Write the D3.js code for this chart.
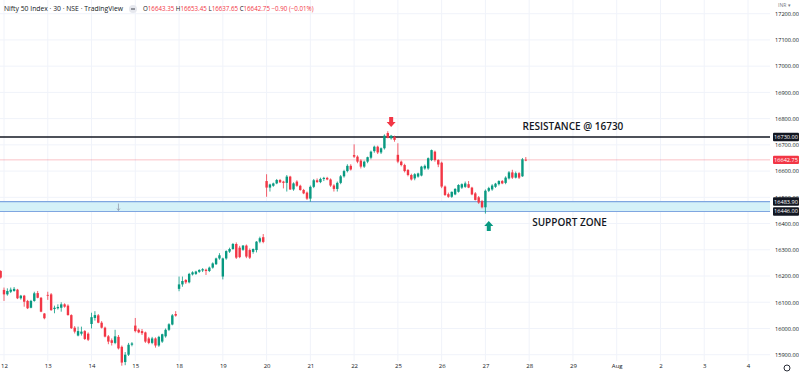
<!DOCTYPE html>
<html>
<head>
<meta charset="utf-8">
<script src="https://cdn.jsdelivr.net/npm/d3@7"></script>
<style>
	html, body { margin: 0; padding: 0; background: #fff; }
	svg { display: block; font-family: "Open Sans", sans-serif; }
</style>
</head>
<body>
<svg id="chart" width="799" height="373"></svg>
<script>
// 30 minute candles, [open, high, low, close], one array per session
const jul11 = [[16219, 16222, 16190, 16194]];
const jul12 = [
	[16147, 16156, 16105, 16130], [16130, 16153, 16125, 16143], [16140, 16156, 16135, 16148],
	[16143, 16158, 16140, 16151], [16148, 16151, 16112, 16115], [16115, 16128, 16110, 16125],
	[16125, 16128, 16083, 16102], [16105, 16109, 16074, 16077], [16079, 16109, 16077, 16105],
	[16105, 16140, 16102, 16134], [16135, 16143, 16115, 16117], [16117, 16120, 16062, 16064],
	[16057, 16059, 16035, 16039]
];
const jul13 = [
	[16128, 16140, 16109, 16125], [16130, 16135, 16067, 16070], [16074, 16087, 16058, 16079],
	[16077, 16092, 16072, 16082], [16079, 16100, 16064, 16092], [16092, 16096, 16079, 16083],
	[16087, 16092, 16049, 16051], [16051, 16054, 15998, 16001], [16003, 16009, 15981, 15988],
	[15973, 16007, 15970, 15990], [15980, 16007, 15973, 15988], [15990, 15994, 15956, 15960],
	[15980, 15985, 15952, 15957]
];
const jul14 = [
	[16017, 16060, 16000, 16043], [16040, 16066, 16030, 16051], [16050, 16055, 16020, 16022],
	[16022, 16028, 16000, 16003], [16003, 16007, 15966, 15969], [15970, 15975, 15940, 15950],
	[15955, 15962, 15935, 15945], [15945, 15995, 15940, 15970], [15968, 15975, 15920, 15924],
	[15930, 15935, 15858, 15870], [15872, 15910, 15860, 15900], [15900, 15945, 15895, 15938],
	[15938, 15948, 15932, 15943]
];
const jul15 = [
	[16011, 16040, 15985, 15990], [15995, 16000, 15982, 15985], [15990, 15998, 15975, 15982],
	[15985, 15988, 15945, 15950], [15962, 15968, 15940, 15945], [15945, 15968, 15940, 15962],
	[15962, 15966, 15927, 15935], [15935, 15972, 15930, 15968], [15950, 15980, 15945, 15978],
	[15970, 16000, 15965, 15995], [15995, 16020, 15990, 16016], [16015, 16055, 16012, 16050],
	[16055, 16066, 16045, 16049]
];
const jul18 = [
	[16151, 16198, 16142, 16168], [16168, 16198, 16159, 16181], [16185, 16188, 16170, 16176],
	[16176, 16212, 16172, 16208], [16206, 16218, 16202, 16214], [16208, 16220, 16204, 16217],
	[16216, 16226, 16212, 16223], [16221, 16230, 16215, 16226], [16224, 16228, 16204, 16219],
	[16219, 16236, 16215, 16232], [16232, 16252, 16228, 16248], [16245, 16270, 16242, 16267],
	[16267, 16287, 16262, 16279]
];
const jul19 = [
	[16198, 16270, 16187, 16267], [16267, 16298, 16262, 16295], [16293, 16308, 16288, 16303],
	[16303, 16326, 16300, 16322], [16322, 16328, 16265, 16270], [16308, 16315, 16268, 16272],
	[16300, 16318, 16296, 16316], [16316, 16320, 16268, 16274], [16299, 16305, 16265, 16270],
	[16292, 16305, 16285, 16303], [16299, 16333, 16290, 16331], [16331, 16350, 16325, 16344],
	[16348, 16360, 16325, 16330]
];
const jul20 = [
	[16562, 16588, 16502, 16537], [16537, 16552, 16522, 16549], [16544, 16556, 16540, 16553],
	[16553, 16570, 16550, 16566], [16566, 16570, 16555, 16557], [16560, 16563, 16534, 16555],
	[16555, 16585, 16522, 16579], [16579, 16582, 16528, 16530], [16530, 16557, 16525, 16553],
	[16560, 16565, 16540, 16544], [16544, 16548, 16525, 16528], [16528, 16532, 16512, 16515],
	[16518, 16522, 16490, 16495]
];
const jul21 = [
	[16495, 16545, 16483, 16540], [16540, 16570, 16535, 16565], [16565, 16572, 16555, 16558],
	[16558, 16575, 16554, 16570], [16570, 16578, 16562, 16574], [16574, 16578, 16565, 16568],
	[16568, 16572, 16540, 16545], [16545, 16550, 16522, 16532], [16532, 16560, 16522, 16555],
	[16555, 16585, 16550, 16580], [16580, 16605, 16575, 16600], [16600, 16626, 16595, 16620],
	[16620, 16626, 16602, 16606]
];
const jul22 = [
	[16661, 16702, 16650, 16655], [16655, 16660, 16630, 16636], [16640, 16645, 16610, 16617],
	[16617, 16640, 16612, 16636], [16636, 16655, 16630, 16653], [16651, 16678, 16645, 16674],
	[16676, 16697, 16670, 16693], [16693, 16697, 16665, 16671], [16671, 16690, 16665, 16687],
	[16687, 16740, 16682, 16735], [16745, 16752, 16725, 16727], [16725, 16738, 16720, 16735],
	[16730, 16735, 16712, 16719]
];
const jul25 = [
	[16662, 16706, 16630, 16636], [16636, 16640, 16618, 16623], [16623, 16628, 16595, 16600],
	[16604, 16608, 16580, 16585], [16585, 16590, 16564, 16568], [16572, 16592, 16565, 16588],
	[16579, 16594, 16575, 16591], [16583, 16620, 16580, 16617], [16610, 16625, 16605, 16620],
	[16610, 16652, 16605, 16649], [16642, 16682, 16638, 16680], [16674, 16678, 16636, 16642],
	[16642, 16645, 16615, 16625]
];
const jul26 = [
	[16632, 16636, 16535, 16541], [16541, 16545, 16505, 16509], [16512, 16518, 16498, 16502],
	[16502, 16522, 16498, 16521], [16511, 16535, 16508, 16532], [16521, 16550, 16518, 16547],
	[16537, 16553, 16532, 16550], [16540, 16560, 16536, 16553], [16550, 16562, 16535, 16537],
	[16537, 16540, 16508, 16511], [16515, 16520, 16488, 16490], [16500, 16505, 16475, 16480],
	[16485, 16490, 16458, 16462]
];
const jul27 = [
	[16462, 16530, 16438, 16525], [16525, 16540, 16520, 16535], [16530, 16550, 16525, 16545],
	[16540, 16555, 16536, 16552], [16550, 16565, 16545, 16562], [16562, 16566, 16550, 16553],
	[16555, 16580, 16550, 16575], [16572, 16600, 16568, 16595], [16595, 16605, 16570, 16575],
	[16575, 16598, 16572, 16592], [16592, 16596, 16570, 16575], [16580, 16650, 16578, 16645],
	[16643.35, 16653.45, 16637.65, 16642.75]
];

const dayLabels = ["12", "13", "14", "15", "18", "19", "20", "21", "22", "25", "26", "27", "28", "29", "Aug", "2", "3", "4"];
const priceTicks = [15900, 16000, 16100, 16200, 16300, 16400, 16500, 16600, 16700, 16800, 16900, 17000, 17100, 17200];
const resistance = 16730;
const supportZone = [16446, 16483.9];
const lastPrice = 16642.75;

const barsPerDay = 13;
const up = "#089981", down = "#f23645";

const svg = d3.select("#chart");
const plotRight = 770, plotBottom = 361;

// bar 0 is the last candle of the 11th, bar 1 opens the 12th
const x = d3.scaleLinear()
			.domain([1, 1 + barsPerDay * (dayLabels.length - 1)])
			.range([4, 748]);
const y = d3.scaleLinear()
			.domain([15900, 17200])
			.range([354.7, 13.7]);

const sessions = [jul11, jul12, jul13, jul14, jul15, jul18, jul19, jul20, jul21, jul22, jul25, jul26, jul27];
const bars = [];
sessions.forEach(s => s.forEach(d => bars.push({ o: d[0], h: d[1], l: d[2], c: d[3] })));
bars.forEach((b, i) => b.i = i);

const dayStarts = dayLabels.map((d, k) => 1 + k * barsPerDay);

// grid
svg.append("g").selectAll("line")
	.data(dayStarts)
	.enter().append("line")
	.attr("x1", d => x(d)).attr("x2", d => x(d))
	.attr("y1", 0).attr("y2", plotBottom)
	.attr("stroke", "#f0f3fa");
svg.append("g").selectAll("line")
	.data(priceTicks)
	.enter().append("line")
	.attr("x1", 0).attr("x2", plotRight)
	.attr("y1", d => y(d)).attr("y2", d => y(d))
	.attr("stroke", "#f0f3fa");

// support zone
svg.append("rect")
	.attr("x", 0).attr("width", plotRight)
	.attr("y", y(supportZone[1]))
	.attr("height", y(supportZone[0]) - y(supportZone[1]))
	.attr("fill", "#d4f1f8");
supportZone.forEach(v => {
	svg.append("line")
		.attr("x1", 0).attr("x2", plotRight)
		.attr("y1", y(v)).attr("y2", y(v))
		.attr("stroke", "#7fa6e0").attr("stroke-width", 1.2);
});
// little anchor mark of the drawing
svg.append("line")
	.attr("x1", x(35)).attr("x2", x(35))
	.attr("y1", y(supportZone[1]) + 2).attr("y2", y(supportZone[0]) - 1)
	.attr("stroke", "#8b93a6").attr("stroke-width", 0.7);
svg.append("path")
	.attr("d", `M${x(35) - 1.5},${y(supportZone[0]) - 3} L${x(35)},${y(supportZone[0]) - 1} L${x(35) + 1.5},${y(supportZone[0]) - 3}`)
	.attr("fill", "none").attr("stroke", "#8b93a6").attr("stroke-width", 0.7);

// last price line
svg.append("line")
	.attr("x1", 0).attr("x2", plotRight)
	.attr("y1", y(lastPrice)).attr("y2", y(lastPrice))
	.attr("stroke", "#f23645").attr("stroke-opacity", 0.3);

// resistance
svg.append("line")
	.attr("x1", 0).attr("x2", plotRight)
	.attr("y1", y(resistance)).attr("y2", y(resistance))
	.attr("stroke", "#131722").attr("stroke-width", 1.4);

// candles
const candle = svg.append("g").selectAll("g")
	.data(bars)
	.enter().append("g");
candle.append("line")
	.attr("x1", d => x(d.i)).attr("x2", d => x(d.i))
	.attr("y1", d => y(d.h)).attr("y2", d => y(d.l))
	.attr("stroke", d => d.c >= d.o ? up : down)
	.attr("stroke-width", 0.8);
candle.append("rect")
	.attr("x", d => x(d.i) - 1.2)
	.attr("width", 2.4)
	.attr("y", d => y(Math.max(d.o, d.c)))
	.attr("height", d => Math.max(0.8, Math.abs(y(d.o) - y(d.c))))
	.attr("fill", d => d.c >= d.o ? up : down);

// annotations
function blockArrow(cx, tipY, dir, color) {
	const s = dir === "down" ? -1 : 1;
	const p = [[cx, tipY], [cx + 4.5, tipY + 5 * s], [cx + 2, tipY + 5 * s], [cx + 2, tipY + 10 * s],
			   [cx - 2, tipY + 10 * s], [cx - 2, tipY + 5 * s], [cx - 4.5, tipY + 5 * s]];
	svg.append("path").attr("d", "M" + p.join("L") + "Z").attr("fill", color);
}
blockArrow(x(116), y(16768), "down", down);
blockArrow(x(145), y(16410), "up", up);

svg.append("text")
	.attr("x", x(170)).attr("y", y(resistance) - 6.5)
	.attr("text-anchor", "middle")
	.attr("font-size", 10).attr("font-weight", 600)
	.attr("fill", "#131722")
	.text("RESISTANCE @ 16730");
svg.append("text")
	.attr("x", x(169)).attr("y", y(supportZone[0]) + 15)
	.attr("text-anchor", "middle")
	.attr("font-size", 10).attr("font-weight", 600)
	.attr("fill", "#131722")
	.text("SUPPORT ZONE");

// time axis
const xAxis = d3.axisBottom(x)
				.tickValues(dayStarts)
				.tickFormat((d, k) => dayLabels[k])
				.tickSize(0)
				.tickPadding(3);
const xg = svg.append("g")
			  .attr("transform", `translate(0, ${plotBottom})`)
			  .call(xAxis);
xg.select(".domain").remove();
xg.selectAll("text").attr("font-size", 6).attr("fill", "#131722").attr("font-family", "Open Sans, sans-serif");

// price axis
const yAxis = d3.axisRight(y)
				.tickValues(priceTicks)
				.tickFormat(d3.format(".2f"))
				.tickSize(0)
				.tickPadding(5);
const yg = svg.append("g")
			  .attr("transform", `translate(${plotRight}, 0)`)
			  .call(yAxis);
yg.select(".domain").remove();
yg.selectAll("text").attr("font-size", 5.6).attr("fill", "#131722").attr("font-family", "Open Sans, sans-serif");

// price tags on the axis
const tags = [
	{ v: resistance, fill: "#131722" },
	{ v: lastPrice, fill: "#f23645" },
	{ v: supportZone[1], fill: "#131722" },
	{ v: supportZone[0], fill: "#131722" }
];
const tag = svg.append("g").selectAll("g").data(tags).enter().append("g");
tag.append("rect")
	.attr("x", 773).attr("width", 26)
	.attr("y", d => y(d.v) - 4.2).attr("height", 8.4)
	.attr("rx", 1)
	.attr("fill", d => d.fill);
tag.append("text")
	.attr("x", 786).attr("y", d => y(d.v) + 2)
	.attr("text-anchor", "middle")
	.attr("font-size", 5.6)
	.attr("fill", "#fff")
	.text(d => d3.format(".2f")(d.v));

// currency + settings
svg.append("text")
	.attr("x", 778).attr("y", 7)
	.attr("font-size", 5).attr("fill", "#787b86")
	.text("INR ▾");
svg.append("circle")
	.attr("cx", 787).attr("cy", 368).attr("r", 3)
	.attr("fill", "none").attr("stroke", "#131722").attr("stroke-width", 0.9);

// legend
const legend = svg.append("text")
				  .attr("x", 4).attr("y", 11)
				  .attr("font-size", 6.8).attr("fill", "#131722");
legend.text("Nifty 50 Index · 30 · NSE · TradingView");
svg.append("circle")
	.attr("cx", 133).attr("cy", 9).attr("r", 4).attr("fill", "#e6e8ee");
svg.append("line")
	.attr("x1", 131).attr("x2", 135).attr("y1", 9).attr("y2", 9)
	.attr("stroke", "#131722").attr("stroke-width", 0.8);

const ohlc = [["O", "16643.35"], ["H", "16653.45"], ["L", "16637.65"], ["C", "16642.75"]];
const ohlcText = svg.append("text")
					.attr("x", 143).attr("y", 11)
					.attr("font-size", 6.2);
ohlc.forEach(p => {
	ohlcText.append("tspan").attr("fill", "#131722").text(p[0]);
	ohlcText.append("tspan").attr("fill", down).text(p[1] + "  ");
});
ohlcText.append("tspan").attr("fill", down).text("−0.90 (−0.01%)");
</script>
</body>
</html>
